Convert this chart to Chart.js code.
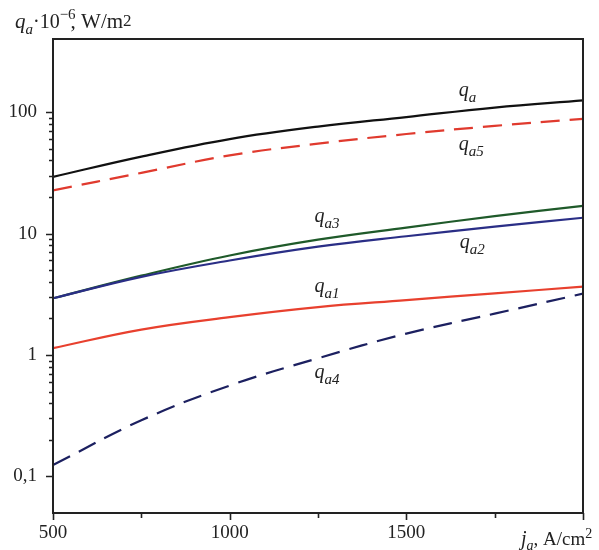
<!DOCTYPE html>
<html>
<head>
<meta charset="utf-8">
<script src="https://cdn.jsdelivr.net/npm/chart.js@4"></script>
<style>
  body { margin: 0; background: #fff; }
  canvas { display: block; }
</style>
</head>
<body>
<canvas id="heatChart" width="599" height="550"></canvas>
<script>
// current density, A/cm2
const jValues = [500, 750, 1000, 1250, 1500, 1750, 2000];

// heat flux components, 10^6 W/m2
const qa  = [29.3, 43, 60, 76, 91, 109, 125];
const qa5 = [22.7, 31.6, 44, 55, 66, 77, 88];
const qa3 = [2.93, 4.5, 6.6, 8.9, 11.2, 13.9, 16.9];
const qa2 = [2.93, 4.4, 6.0, 7.8, 9.5, 11.4, 13.5];
const qa1 = [1.14, 1.62, 2.05, 2.48, 2.83, 3.22, 3.65];
const qa4 = [0.124, 0.29, 0.56, 0.94, 1.5, 2.19, 3.2];

// axis ticks
const xTickValues = [500, 750, 1000, 1250, 1500, 1750, 2000];
const xTickLabels = { 500: "500", 1000: "1000", 1500: "1500" };
const yDecades = [0.1, 1, 10];
const yTickLabels = ["0,1", "1", "10", "100"];

const yTickValues = [];
yDecades.forEach(function (d) {
  for (let m = 1; m <= 9; m++) yTickValues.push(+(m * d).toPrecision(3));
});
yTickValues.push(100);
const yMajor = yDecades.concat([100]);

function toPoints(arr) {
  return arr.map(function (v, i) { return { x: jValues[i], y: v }; });
}

// curve captions, placed in data units
const captions = [
  { sub: "a",  x: 1648, y: 137 },
  { sub: "a5", x: 1648, y: 48.5 },
  { sub: "a3", x: 1240, y: 12.5 },
  { sub: "a2", x: 1651, y: 7.6 },
  { sub: "a1", x: 1240, y: 3.32 },
  { sub: "a4", x: 1240, y: 0.65 },
];

const SERIF = "'Liberation Serif', 'DejaVu Serif', serif";

function drawRuns(ctx, x, y, runs) {
  runs.forEach(function (r) {
    ctx.font = r.font;
    ctx.fillText(r.t, x, y + (r.dy || 0));
    x += ctx.measureText(r.t).width + (r.gap || 0);
  });
}

const framePlugin = {
  id: "frame",
  afterDraw: function (chart) {
    const ctx = chart.ctx;
    const a = chart.chartArea;
    const xs = chart.scales.x;
    const ys = chart.scales.y;
    ctx.save();

    // box round the plot
    ctx.strokeStyle = "#222";
    ctx.lineWidth = 2;
    ctx.strokeRect(a.left, a.top, a.right - a.left, a.bottom - a.top);

    // tick marks
    ctx.lineWidth = 1.6;
    ctx.beginPath();
    yTickValues.forEach(function (v) {
      const py = Math.round(ys.getPixelForValue(v)) + 0.5;
      const len = yMajor.indexOf(v) >= 0 ? 7 : 4;
      ctx.moveTo(a.left - len, py);
      ctx.lineTo(a.left, py);
    });
    xTickValues.forEach(function (v) {
      const px = Math.round(xs.getPixelForValue(v)) + 0.5;
      const len = v % 500 === 0 ? 7 : 5;
      ctx.moveTo(px, a.bottom);
      ctx.lineTo(px, a.bottom + len);
    });
    ctx.stroke();

    // axis titles
    ctx.fillStyle = "#222";
    ctx.textBaseline = "alphabetic";
    ctx.textAlign = "left";
    drawRuns(ctx, 15, 28, [
      { t: "q", font: "italic 21px " + SERIF },
      { t: "a", font: "italic 15px " + SERIF, dy: 6 },
      { t: "\u00b710", font: "20px " + SERIF },
      { t: "\u22126", font: "15px " + SERIF, dy: -9, gap: -5 },
      { t: ", W/m", font: "21px " + SERIF },
      { t: "2", font: "17px " + SERIF, dy: -2 },
    ]);
    drawRuns(ctx, 521, 545, [
      { t: "j", font: "italic 20px " + SERIF },
      { t: "a", font: "italic 14px " + SERIF, dy: 5 },
      { t: ", A/cm", font: "19px " + SERIF },
      { t: "2", font: "14px " + SERIF, dy: -7 },
    ]);

    // curve captions
    captions.forEach(function (c) {
      const px = xs.getPixelForValue(c.x);
      const py = ys.getPixelForValue(c.y);
      drawRuns(ctx, px, py, [
        { t: "q", font: "italic 20px " + SERIF },
        { t: c.sub, font: "italic 15px " + SERIF, dy: 6 },
      ]);
    });
    ctx.restore();
  },
};

function line(label, data, color, dashed) {
  return {
    label: label,
    data: toPoints(data),
    borderColor: color,
    borderWidth: 2.2,
    borderDash: dashed ? [19, 10] : [],
    pointRadius: 0,
    fill: false,
    tension: 0.4,
  };
}

new Chart(document.getElementById("heatChart"), {
  type: "line",
  data: {
    datasets: [
      line("qa4", qa4, "#1c2060", true),
      line("qa1", qa1, "#e8402e", false),
      line("qa2", qa2, "#2a2e86", false),
      line("qa3", qa3, "#1f5a2a", false),
      line("qa5", qa5, "#e03a2e", true),
      line("qa", qa, "#111111", false),
    ],
  },
  options: {
    responsive: false,
    animation: false,
    layout: { padding: { top: 39, right: 16, left: 0, bottom: 0 } },
    plugins: { legend: { display: false }, tooltip: { enabled: false } },
    scales: {
      x: {
        type: "linear",
        min: 500,
        max: 2000,
        afterFit: function (s) { s.height = 37; },
        afterBuildTicks: function (s) {
          s.ticks = xTickValues.map(function (v) { return { value: v }; });
        },
        ticks: {
          autoSkip: false,
          maxRotation: 0,
          padding: 9,
          color: "#222",
          font: { family: SERIF, size: 19 },
          callback: function (v) { return xTickLabels[v] || ""; },
        },
        grid: { display: false, drawTicks: false },
        border: { display: false },
      },
      y: {
        type: "logarithmic",
        min: 0.05,
        max: 400,
        afterFit: function (s) { s.width = 53; },
        afterBuildTicks: function (s) {
          s.ticks = yTickValues.map(function (v) { return { value: v }; });
        },
        ticks: {
          autoSkip: false,
          padding: 16,
          color: "#222",
          font: { family: SERIF, size: 19 },
          callback: function (v) {
            const i = yMajor.indexOf(v);
            return i >= 0 ? yTickLabels[i] : "";
          },
        },
        grid: { display: false, drawTicks: false },
        border: { display: false },
      },
    },
  },
  plugins: [framePlugin],
});
</script>
</body>
</html>
